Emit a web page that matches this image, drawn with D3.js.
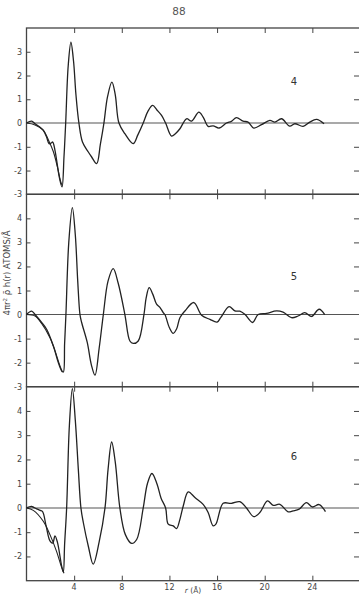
<!DOCTYPE html>
<html><head><meta charset="utf-8">
<script src="https://cdn.jsdelivr.net/npm/d3@7"></script>
<style>body{margin:0;background:#fff}svg{display:block}</style>
</head><body>
<script>
// ---- data (r in Å, value of 4πr²ρ̄h(r)) ----
const xTicks = [4, 8, 12, 16, 20, 24];
const panelNames = ["4", "5", "6"];
const yDomains = [[-3, 4], [-3, 5], [-3, 5]];
const yLabelValues = [[-3,-2,-1,0,1,2,3], [-3,-2,-1,0,1,2,3,4], [-2,-1,0,1,2,3,4]];

const curve4 = [[0,0],[0.43,0.08],[0.72,-0.03],[1.05,-0.15],[1.41,-0.31],[1.69,-0.6],[1.89,-0.87],[2.05,-0.85],[2.2,-0.8],[2.39,-1.15],[2.6,-1.8],[2.75,-2.27],[2.98,-2.69],[3.15,-1.4],[3.29,0],[3.5,2.4],[3.73,3.4],[3.95,2.6],[4.15,1.2],[4.4,0],[4.7,-0.8],[5.19,-1.22],[5.47,-1.43],[5.89,-1.71],[6.2,-0.9],[6.5,0],[6.8,1.1],[7.17,1.72],[7.45,1.2],[7.76,0],[8.26,-0.45],[8.96,-0.87],[9.35,-0.5],[9.8,0],[10.2,0.5],[10.59,0.74],[10.95,0.55],[11.34,0.32],[11.68,0],[12.18,-0.55],[12.5,-0.45],[12.88,-0.24],[13.44,0.18],[13.86,0.08],[14.47,0.46],[14.83,0.25],[15.25,-0.14],[15.67,-0.12],[16.18,-0.21],[16.79,0],[17.2,0.07],[17.63,0.23],[18.18,0.08],[18.6,0.04],[19.08,-0.21],[19.73,-0.07],[20.43,0.11],[20.85,0.04],[21.41,0.18],[22.1,-0.13],[22.53,-0.03],[23.22,-0.14],[23.78,0.04],[24.35,0.15],[24.98,-0.03]];
const base4 = [[0,0],[0.72,-0.08],[1.41,-0.3],[1.83,-0.7],[2.25,-1.2],[2.6,-1.86],[2.83,-2.39],[2.96,-2.6]];

const curve5 = [[0,0],[0.43,0.14],[0.72,0],[1.27,-0.33],[1.69,-0.61],[2.25,-1.3],[2.67,-2.0],[2.95,-2.34],[3.09,-2.39],[3.2,-1.2],[3.31,0],[3.55,3.0],[3.85,4.45],[4.1,3.3],[4.3,1.4],[4.49,0],[4.63,-0.33],[5.1,-1.16],[5.45,-2.1],[5.75,-2.52],[6.1,-1.4],[6.45,0],[6.85,1.4],[7.28,1.91],[7.7,1.3],[8.26,0],[8.68,-1.1],[8.96,-1.2],[9.38,-1.1],[9.86,0],[10.05,0.7],[10.3,1.12],[10.6,0.85],[10.92,0.43],[11.2,0.3],[11.48,0.08],[11.62,0],[12.0,-0.55],[12.32,-0.78],[12.6,-0.6],[12.88,-0.13],[13.3,0.15],[14.05,0.5],[14.7,-0.03],[15.4,-0.2],[16.0,-0.31],[16.3,-0.13],[17.01,0.33],[17.49,0.15],[17.91,0.14],[18.33,0.01],[18.98,-0.33],[19.45,0],[20.15,0.05],[20.99,0.15],[21.54,0.1],[22.25,-0.13],[22.8,-0.06],[23.36,0.08],[23.92,-0.08],[24.57,0.22],[25.04,0]];
const base5 = [[0,0],[0.72,-0.06],[1.27,-0.37],[1.96,-0.95],[2.39,-1.5],[2.75,-2.05],[3.01,-2.39]];

const curve6 = [[0,0],[0.43,0.06],[0.85,-0.04],[1.15,-0.1],[1.35,-0.15],[1.65,-0.75],[1.97,-1.36],[2.2,-1.45],[2.39,-1.15],[2.6,-1.42],[2.95,-2.39],[3.09,-2.64],[3.2,-1.5],[3.37,0],[3.6,3.4],[3.85,4.92],[4.1,3.6],[4.35,1.6],[4.57,0],[4.77,-0.6],[5.2,-1.6],[5.6,-2.32],[6.1,-1.4],[6.59,0],[6.85,1.6],[7.15,2.72],[7.45,1.9],[7.84,0],[8.3,-1.1],[8.83,-1.46],[9.25,-1.3],[9.8,0],[10.15,1.0],[10.53,1.42],[10.95,1.0],[11.3,0.4],[11.68,0],[11.9,-0.67],[12.32,-0.74],[12.6,-0.85],[12.88,-0.47],[13.16,0.08],[13.58,0.66],[14.14,0.43],[14.83,0.15],[15.25,-0.19],[15.67,-0.74],[15.9,-0.67],[16.51,0.19],[17.2,0.19],[17.91,0.26],[18.47,0],[19.08,-0.36],[19.59,-0.19],[20.23,0.29],[20.71,0.11],[21.27,0.15],[21.96,-0.16],[22.38,-0.12],[22.89,-0.05],[23.5,0.22],[24.0,0.04],[24.57,0.14],[25.1,-0.15]];
const base6 = [[0,0],[0.57,-0.1],[1.41,-0.55],[1.97,-1.1],[2.53,-1.8],[2.95,-2.45],[3.15,-2.69]];

const curves = [curve4, curve5, curve6];
const bases = [base4, base5, base6];

// ---- layout ----
const W = 359, H = 595;
const left = 26.5, right = 360;
const panelBox = [[28, 194.3], [194.3, 386.7], [386.7, 580.7]];
const ink = "#222", soft = "#444";
const font = "'DejaVu Sans', sans-serif";

const svg = d3.select("body").append("svg").attr("width", W).attr("height", H);
const x = d3.scaleLinear().domain([0, 28]).range([left, right]);

svg.append("text").attr("x", 179).attr("y", 15).attr("text-anchor", "middle")
  .attr("font-family", font).attr("font-size", 10.5).attr("fill", "#555").text("88");

const line = d3.line().curve(d3.curveCatmullRom.alpha(0.5));

panelBox.forEach((box, i) => {
  const [top, bot] = box;
  const y = d3.scaleLinear().domain(yDomains[i]).range([bot, top]);
  const g = svg.append("g");
  g.append("rect").attr("x", left).attr("y", top).attr("width", right - left).attr("height", bot - top)
    .attr("fill", "none").attr("stroke", soft).attr("stroke-width", 1.3);
  g.append("line").attr("x1", left).attr("x2", right).attr("y1", y(0)).attr("y2", y(0))
    .attr("stroke", "#555").attr("stroke-width", 1.1);
  g.append("g").attr("transform", `translate(0,${top})`)
    .call(d3.axisBottom(x).tickValues(xTicks).tickSize(5).tickFormat(""))
    .call(a => { a.select(".domain").remove(); a.selectAll("line").attr("stroke", soft); });
  g.append("g").attr("transform", `translate(0,${bot})`)
    .call(d3.axisTop(x).tickValues(xTicks).tickSize(5).tickFormat(""))
    .call(a => { a.select(".domain").remove(); a.selectAll("line").attr("stroke", soft); });
  const yt = d3.range(yDomains[i][0] + 1, yDomains[i][1]).filter(v => v !== 0);
  g.append("g").attr("transform", `translate(${left},0)`)
    .call(d3.axisRight(y).tickValues(yt).tickSize(4).tickFormat(""))
    .call(a => { a.select(".domain").remove(); a.selectAll("line").attr("stroke", soft); });
  g.append("g").attr("transform", `translate(${right - 1},0)`)
    .call(d3.axisLeft(y).tickValues(yt).tickSize(5).tickFormat(""))
    .call(a => { a.select(".domain").remove(); a.selectAll("line").attr("stroke", soft); });
  g.selectAll(".yl").data(yLabelValues[i]).enter().append("text")
    .attr("x", 22).attr("y", d => y(d) + 3).attr("text-anchor", "end")
    .attr("font-family", font).attr("font-size", 8).attr("fill", soft)
    .text(d => d < 0 ? "-" + Math.abs(d) : d);
  g.append("path").attr("d", line(bases[i].map(d => [x(d[0]), y(d[1])])))
    .attr("fill", "none").attr("stroke", ink).attr("stroke-width", 1.1);
  g.append("path").attr("d", line(curves[i].map(d => [x(d[0]), y(d[1])])))
    .attr("fill", "none").attr("stroke", ink).attr("stroke-width", 1.3);
  const ny = [81, 276, 456][i];
  g.append("text").attr("x", 294).attr("y", ny + 4).attr("text-anchor", "middle")
    .attr("font-family", font).attr("font-size", 10).attr("fill", "#333").text(panelNames[i]);
});

svg.selectAll(".xl").data(xTicks).enter().append("text")
  .attr("x", d => x(d)).attr("y", 590).attr("text-anchor", "middle")
  .attr("font-family", font).attr("font-size", 8).attr("fill", soft).text(d => d);

const xt = svg.append("text").attr("x", 193).attr("y", 592.5).attr("text-anchor", "middle")
  .attr("font-family", font).attr("font-size", 7.5).attr("fill", soft);
xt.append("tspan").attr("font-style", "italic").text("r");
xt.append("tspan").text(" (Å)");

const yt = svg.append("text").attr("transform", "translate(10,273) rotate(-90)")
  .attr("text-anchor", "middle").attr("font-family", font).attr("font-size", 8.5).attr("fill", soft);
yt.append("tspan").text("4\u03c0r");
yt.append("tspan").attr("font-size", 5.5).attr("dy", -3).text("2");
yt.append("tspan").attr("dy", 3).text(" \u03c1\u0304 h(r)  ATOMS/Å");
</script>
</body></html>
